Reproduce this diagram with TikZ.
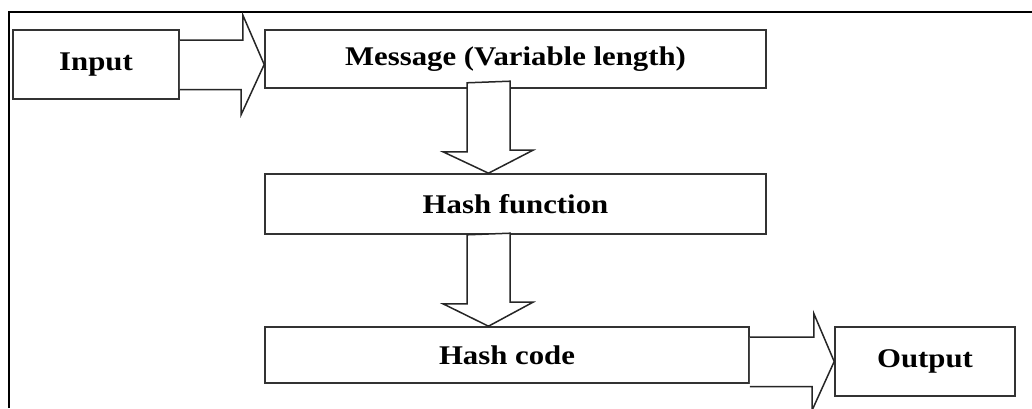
\documentclass[tikz,border=0pt]{standalone}
\usepackage{fontspec}
\setmainfont{Liberation Serif}[FakeStretch=1.14]
\usetikzlibrary{calc}
\tikzset{
    box/.style={rectangle,draw=black!80,line width=1.6pt,inner sep=0pt,font=\fontsize{27}{32}\selectfont\bfseries},
    blockarrow/.style={draw=black!85,line width=1.5pt,fill=white,line join=miter}
}

\begin{document}
\begin{tikzpicture}[x=1pt,y=-1pt]
\useasboundingbox (0,0) rectangle (1032,408);
\draw[line width=1.6pt] (9,408) -- (9,12) -- (1032,12);

\node[box, minimum width=166, minimum height=69] (in) at (96,64.5) {Input};
\node[box, minimum width=501, minimum height=58] (msg) at (515.5,59) {Message (Variable length)};
\node[box, minimum width=501, minimum height=60] (hf) at (515.5,204) {Hash function};
\node[box, minimum width=484, minimum height=56] (hc) at (507,355) {Hash code};
\node[box, minimum width=180, minimum height=69] (out) at (925,361.5) {Output};

\draw[blockarrow] ($(in.east)+(0,-24.5)$) -- ++(63,0) -- ++(0,-25) -- (in.east -| msg.west)
    -- ++(-23,50) -- ++(0,-25) -- ($(in.east)+(0,25)$);
\draw[blockarrow] ($(msg.south)+(-48.5,-6)$) -- ++(0,69) -- ++(-24,0) -- ($(hf.north)+(-27,0)$)
    -- ++(44.5,-23) -- ++(-23,0) -- ++(0,-69) -- cycle;
\draw[blockarrow] ($(hf.south)+(-48.5,0)$) -- ++(0,69) -- ++(-24,0) -- ($(hc.north)+(-18.5,0)$)
    -- ++(44.5,-24) -- ++(-23,0) -- ++(0,-69) -- cycle;
\draw[blockarrow] ($(hc.east |- out.west)+(0,-24.5)$) -- ++(64,0) -- ++(0,-23.5) -- (out.west)
    -- ++(-22,48.5) -- ++(0,-23.5) -- ($(hc.east |- out.west)+(0,25)$);

\end{tikzpicture}
\end{document}
